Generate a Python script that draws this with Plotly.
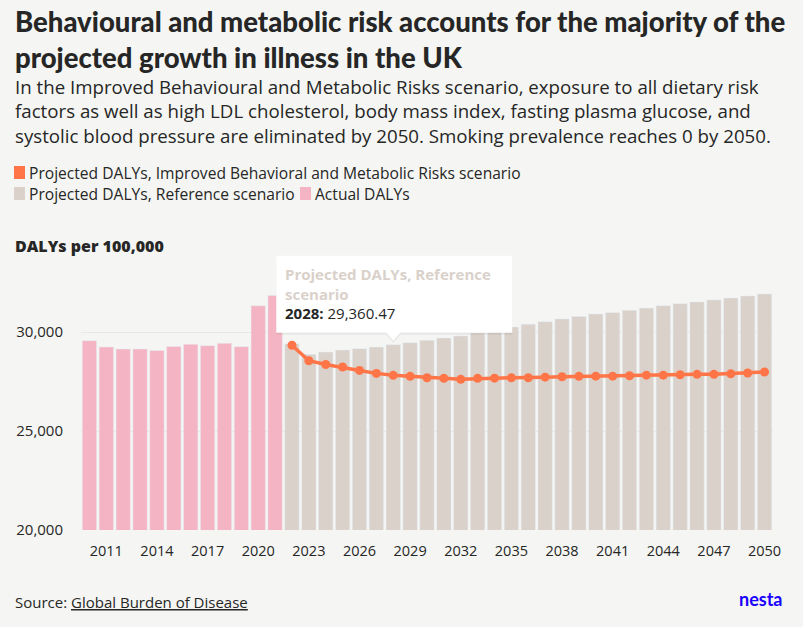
import plotly.graph_objects as go

# ---- data ----
actual_years = list(range(2010, 2022))
actual_dalys = [29560, 29240, 29140, 29140, 29070, 29270, 29380, 29310, 29430, 29260, 31320, 31840]

proj_years = list(range(2022, 2051))
reference_dalys = [29400, 28870, 28990, 29090, 29160, 29240, 29360.47, 29460, 29580, 29700,
                   29800, 29950, 30120, 30250, 30390, 30520, 30660, 30780, 30910, 30990,
                   31100, 31210, 31330, 31430, 31520, 31620, 31720, 31820, 31920]
improved_dalys = [29330, 28550, 28360, 28230, 28060, 27910, 27810, 27760, 27690, 27660,
                  27610, 27660, 27670, 27690, 27690, 27720, 27740, 27760, 27770, 27770,
                  27790, 27820, 27820, 27840, 27860, 27860, 27890, 27930, 27980]

x_tick_vals = list(range(2011, 2051, 3))
y_tick_vals = [20000, 25000, 30000]

hover_year = 2028
series_names = ["Projected DALYs, Improved Behavioral and Metabolic Risks scenario",
                "Projected DALYs, Reference scenario",
                "Actual DALYs"]

# ---- style ----
BG = "#f5f6f3"
PINK = "#f5b4c3"
GREY = "#d9d1ca"
ORANGE = "#ff7547"
TEXT = "#262626"
FONT = "Open Sans"
TITLE_FONT = "Lato"

W, H = 803, 627
ML, MR, MT, MB = 81, 30, 240, 97
px_per_1000 = 19.8
y_top = 20000 + (H - MT - MB) / px_per_1000 * 1000
PW, PH = W - ML - MR, H - MT - MB


def px_x(px):
    return (px - ML) / PW


def px_y(py):
    return (H - MB - py) / PH


fig = go.Figure()
fig.add_trace(go.Bar(x=actual_years, y=actual_dalys, marker_color=PINK, name=series_names[2],
                     showlegend=False))
fig.add_trace(go.Bar(x=proj_years, y=reference_dalys, marker_color=GREY, name=series_names[1],
                     showlegend=False))
fig.add_trace(go.Scatter(x=proj_years, y=improved_dalys, mode="lines+markers",
                         line=dict(color=ORANGE, width=3.5),
                         marker=dict(color=ORANGE, size=9), name=series_names[0],
                         showlegend=False))

fig.update_layout(
    width=W, height=H,
    margin=dict(l=ML, r=MR, t=MT, b=MB),
    paper_bgcolor=BG, plot_bgcolor=BG,
    barmode="overlay", bargap=0.15,
    font=dict(family=FONT, color=TEXT, size=14),
    xaxis=dict(range=[2009.5, 2050.5], tickmode="array", tickvals=x_tick_vals,
               showgrid=False, zeroline=False, showline=False, ticks="outside", ticklen=8,
               tickcolor="rgba(0,0,0,0)", tickfont=dict(size=14.5, color=TEXT)),
    yaxis=dict(range=[20000, y_top], tickmode="array", tickvals=y_tick_vals,
               tickformat=",d", showgrid=True, gridcolor="#e8e9e6", gridwidth=1,
               zeroline=False, showline=False, ticks="outside", ticklen=14,
               tickcolor="rgba(0,0,0,0)", tickfont=dict(size=15, color=TEXT)),
    showlegend=False,
)

annotations = []
shapes = []

# Title & subtitle
annotations.append(dict(xref="paper", yref="paper", x=px_x(13), y=px_y(3), xanchor="left", yanchor="top",
                        text="Behavioural and metabolic risk accounts for the majority of the<br>projected growth in illness in the UK",
                        showarrow=False, align="left",
                        font=dict(family=TITLE_FONT, size=27.5, color=TEXT, weight=900)))
annotations.append(dict(xref="paper", yref="paper", x=px_x(13), y=px_y(72), xanchor="left", yanchor="top",
                        text="In the Improved Behavioural and Metabolic Risks scenario, exposure to all dietary risk<br>"
                             "factors as well as high LDL cholesterol, body mass index, fasting plasma glucose, and<br>"
                             "systolic blood pressure are eliminated by 2050. Smoking prevalence reaches 0 by 2050.",
                        showarrow=False, align="left",
                        font=dict(family=FONT, size=18.7, color=TEXT)))

# Legend (manual)
legend_items = [(series_names[0], ORANGE, 14, 173),
                (series_names[1], GREY, 14, 194),
                (series_names[2], PINK, 300, 194)]
for name, col, lx, ly in legend_items:
    shapes.append(dict(type="rect", xref="paper", yref="paper", layer="above",
                       x0=px_x(lx), x1=px_x(lx + 11), y0=px_y(ly + 6), y1=px_y(ly - 7),
                       fillcolor=col, line=dict(width=0)))
    annotations.append(dict(xref="paper", yref="paper", x=px_x(lx + 13), y=px_y(ly),
                            xanchor="left", yanchor="middle", text=name, showarrow=False,
                            font=dict(family=FONT, size=15.6, color=TEXT)))

# Axis title
annotations.append(dict(xref="paper", yref="paper", x=px_x(13), y=px_y(246),
                        xanchor="left", yanchor="middle",
                        text="DALYs per 100,000", showarrow=False,
                        font=dict(family=FONT, size=16, color=TEXT, weight=800)))

# Source + logo
annotations.append(dict(xref="paper", yref="paper", x=px_x(13), y=px_y(602),
                        xanchor="left", yanchor="middle",
                        text="Source: <u>Global Burden of Disease</u>", showarrow=False,
                        font=dict(family=FONT, size=15, color=TEXT)))
annotations.append(dict(xref="paper", yref="paper", x=px_x(785), y=px_y(599),
                        xanchor="right", yanchor="middle",
                        text="<b>nesta</b>", showarrow=False,
                        font=dict(family=TITLE_FONT, size=18, color="#1a00ff", weight=900)))

# Tooltip anchored at hovered reference bar
hv = reference_dalys[proj_years.index(hover_year)]
for dx, dy, col in [(0, -2, "rgba(0,0,0,0.06)"), (0, 0, "white")]:
    shapes.append(dict(type="path", xref="x", yref="y", xsizemode="pixel", ysizemode="pixel",
                       xanchor=hover_year, yanchor=hv, layer="above",
                       path=f"M {-117+dx},{12+dy} L {-7+dx},{12+dy} L {0+dx},{4+dy} L {7+dx},{12+dy} "
                            f"L {119+dx},{12+dy} L {119+dx},{89+dy} L {-117+dx},{89+dy} Z",
                       fillcolor=col, line=dict(width=0)))
annotations.append(dict(xref="x", yref="y", x=hover_year, y=hv, xshift=-110, yshift=83,
                        xanchor="left", yanchor="top", align="left", showarrow=False,
                        text=f"<span style='color:{GREY}'><b>Projected DALYs, Reference<br>scenario</b></span><br>"
                             f"<b>{hover_year}:</b> {hv:,.2f}",
                        font=dict(family=FONT, size=15, color=TEXT)))

fig.update_layout(annotations=annotations, shapes=shapes)

fig.write_html("out.html", config={"displayModeBar": False},
               post_script="document.body.style.margin='0';document.body.style.padding='0';")
